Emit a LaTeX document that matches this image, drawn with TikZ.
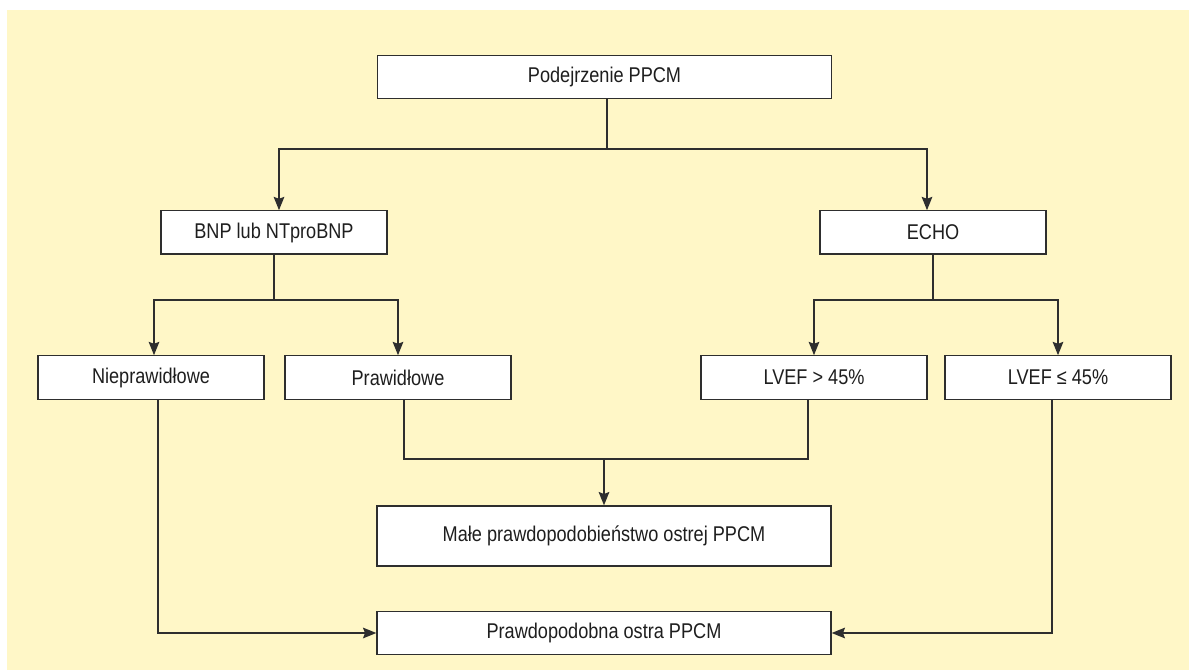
\documentclass[tikz,border=0pt]{standalone}
\usepackage{fontspec}
\setmainfont{Liberation Sans}[FakeStretch=0.85]
\usetikzlibrary{arrows.meta,calc}
\definecolor{bgyellow}{HTML}{FFF7C7}
\definecolor{linegray}{HTML}{2E2E2E}
\definecolor{textgray}{HTML}{1E1E1E}
\begin{document}
\begin{tikzpicture}[x=0.75pt,y=-0.75pt,
  box/.style={draw=linegray,line width=1pt,fill=white,minimum width=169.5pt,minimum height=32.5pt,
    inner sep=0pt,text=textgray,font=\fontsize{16pt}{19pt}\selectfont},
  widebox/.style={box,minimum width=340.5pt},
  conn/.style={draw=linegray,line width=1pt},
  arr/.style={conn,-{Stealth[length=10pt,width=8pt,inset=1.5pt]}}]
\useasboundingbox (0,0) rectangle (1189,670);
\fill[bgyellow] (7,10) rectangle (1189,670);
% boxes
\node[widebox] (top) at (604.5,77) {Podejrzenie PPCM};
\node[box] (bnp) at (274,232.5) {BNP lub NTproBNP};
\node[box] (echo) at (933,232.5) {ECHO};
\node[box] (niep) at (151,377.5) {Nieprawidłowe};
\node[box] (praw) at (398,377.5) {Prawidłowe};
\node[box] (lgt) at (814,377.5) {LVEF > 45\%};
\node[box] (lle) at (1058,377.5) {LVEF ≤ 45\%};
\node[widebox,minimum height=45pt] (mid) at (604,536) {Małe prawdopodobieństwo ostrej PPCM};
\node[widebox] (bot) at (604,633) {Prawdopodobna ostra PPCM};
% junctions
\coordinate (j1) at (607,149);
\coordinate (j2) at (274,300);
\coordinate (j3) at (933,300);
\coordinate (j4) at (604,459);
% connectors
\draw[conn] (top.south -| j1) -- (j1);
\draw[arr] (j1) -| ([xshift=3.75pt]bnp.north);
\draw[arr] (j1) -| ([xshift=-4.5pt]echo.north);
\draw[conn] (bnp.south) -- (j2);
\draw[arr] (j2) -| ([xshift=2.25pt]niep.north);
\draw[arr] (j2) -| (praw.north);
\draw[conn] (echo.south) -- (j3);
\draw[arr] (j3) -| (lgt.north);
\draw[arr] (j3) -| (lle.north);
\draw[conn] ([xshift=4.5pt]praw.south) |- (j4);
\draw[conn] ([xshift=-4.5pt]lgt.south) |- (j4);
\draw[arr] (j4) -- (mid.north);
\draw[arr] ([xshift=5.25pt]niep.south) |- (bot.west);
\draw[arr] ([xshift=-4.5pt]lle.south) |- (bot.east);
\end{tikzpicture}
\end{document}
